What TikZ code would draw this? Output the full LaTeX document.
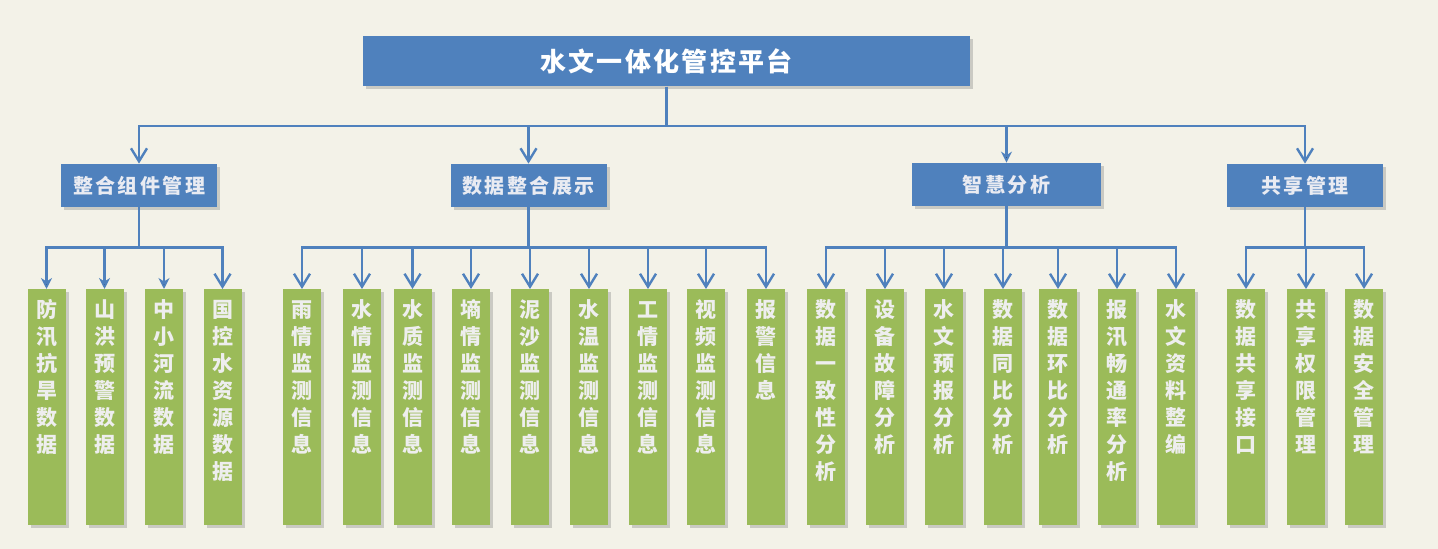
\documentclass[tikz,border=0pt]{standalone}
\usepackage{fontspec}
\setmainfont{Noto Sans CJK SC}
\XeTeXlinebreaklocale "zh"
\XeTeXlinebreakskip=0pt plus 1pt
\usetikzlibrary{arrows.meta,shadows}
\definecolor{bgcol}{HTML}{F3F2E8}
\definecolor{boxblue}{HTML}{4F81BD}
\definecolor{linkblue}{HTML}{4F81BD}
\definecolor{leafgreen}{HTML}{9BBB59}
\definecolor{midtxt}{HTML}{E9EBF2}
\definecolor{leaftxt}{HTML}{EEEEEE}
\tikzset{
  box/.style={fill=boxblue, inner sep=0pt,
    drop shadow={shadow xshift=1.5pt, shadow yshift=-1.5pt, opacity=.35}},
  root/.style={box, minimum width=303.5pt, minimum height=25pt, text=white,
    font=\bfseries\fontsize{13pt}{15pt}\selectfont\addfontfeature{LetterSpace=9}},
  mid/.style={box, minimum width=78pt, minimum height=21.5pt, text=midtxt,
    font=\bfseries\fontsize{10pt}{12pt}\selectfont\addfontfeature{LetterSpace=12}},
  leaf/.style={fill=leafgreen, anchor=north, minimum width=19pt,
    text width=12pt, align=center, inner xsep=3.5pt, inner ysep=5pt,
    text height=9pt, text depth=99pt, text=leaftxt,
    font=\bfseries\fontsize{10.5pt}{13.5pt}\selectfont,
    drop shadow={shadow xshift=1.5pt, shadow yshift=-1.5pt, opacity=.35}},
  link/.style={draw=linkblue, line width=1.2pt,
    -{Straight Barb[length=6.5pt, width=8pt]}},
  solid tip/.style={-{Stealth[length=5.5pt, width=5.5pt]}},
  tree/.style={to path={(\tikztostart.south) -- ++(0,-#1) -| (\tikztotarget.north)}}
}
\begin{document}
\begin{tikzpicture}[x=0.5pt, y=-0.5pt]
  \fill[bgcol] (0,0) rectangle (1438,549);
  \node[root] (top) at (666.5,61.5) {水文一体化管控平台};
  \node[mid] (g1) at (139,185.5) {整合组件管理};
  \node[mid] (g2) at (528.5,185.5) {数据整合展示};
  \node[mid, minimum width=94.5pt] (g3) at (1006.5,184.5) {智慧分析};
  \node[mid] (g4) at (1305,185.5) {共享管理};
  \foreach \x/\t [count=\i] in {46.5/防汛抗旱数据, 104.5/山洪预警数据,
      164/中小河流数据, 222.5/国控水资源数据}
    \node[leaf] (a\i) at (\x,289) {\t};
  \foreach \x/\t [count=\i] in {302/雨情监测信息, 362/水情监测信息,
      412.5/水质监测信息, 471/墒情监测信息, 530/泥沙监测信息,
      589/水温监测信息, 648/工情监测信息, 706/视频监测信息, 766/报警信息}
    \node[leaf] (b\i) at (\x,289) {\t};
  \foreach \x/\t [count=\i] in {826/数据一致性分析, 885/设备故障分析,
      944/水文预报分析, 1003/数据同比分析, 1058/数据环比分析,
      1117/报汛畅通率分析, 1176/水文资料整编}
    \node[leaf] (c\i) at (\x,289) {\t};
  \foreach \x/\t [count=\i] in {1246/数据共享接口, 1306/共享权限管理,
      1364/数据安全管理}
    \node[leaf] (d\i) at (\x,289) {\t};
  \path[link]
    (top) edge[tree=19.5pt] (g1)
    (top) edge[tree=19.5pt] (g2)
    (top) edge[tree=19.5pt, solid tip] (g3)
    (top) edge[tree=19.5pt] (g4)
    (g1) edge[tree=20pt, solid tip] (a1)
    (g1) edge[tree=20pt, solid tip] (a2)
    (g1) edge[tree=20pt, solid tip] (a3)
    (g1) edge[tree=20pt] (a4);
  \foreach \i in {1,...,9}
    \path[link] (g2) edge[tree=20pt] (b\i);
  \foreach \i in {1,...,7}
    \path[link] (g3) edge[tree=20.5pt] (c\i);
  \foreach \i in {1,...,3}
    \path[link] (g4) edge[tree=20pt] (d\i);
\end{tikzpicture}
\end{document}
